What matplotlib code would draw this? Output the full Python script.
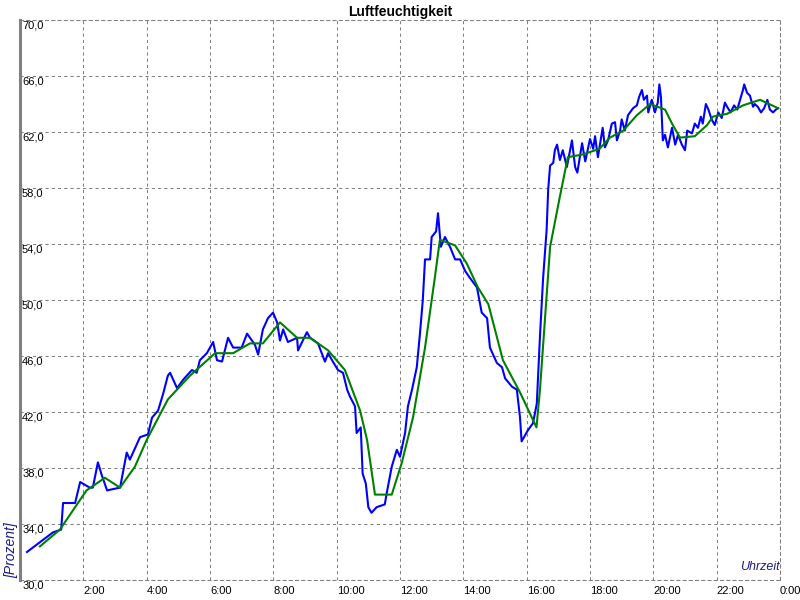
import matplotlib
matplotlib.use("Agg")
import matplotlib.pyplot as plt

# humidity readings (hours since midnight, percent)
raw_hours = [0.22, 0.63, 1.04, 1.30, 1.36, 1.74, 1.90, 2.20, 2.30, 2.46, 2.58, 2.75,
             3.16, 3.37, 3.47, 3.79, 4.04, 4.17, 4.36, 4.52, 4.67, 4.74, 4.96, 5.15,
             5.43, 5.58, 5.68, 5.90, 6.10, 6.22, 6.38, 6.57, 6.73, 7.00, 7.17, 7.42,
             7.52, 7.67, 7.83, 7.99, 8.12, 8.21, 8.31, 8.46, 8.75, 8.78, 9.06, 9.16,
             9.41, 9.63, 9.73, 9.88, 10.04, 10.20, 10.33, 10.42, 10.58, 10.63, 10.76,
             10.82, 10.92, 11.00, 11.10, 11.26, 11.52, 11.58, 11.74, 11.90, 12.00,
             12.16, 12.25, 12.38, 12.53, 12.63, 12.72, 12.79, 12.95, 13.00, 13.14,
             13.20, 13.29, 13.42, 13.58, 13.74, 13.90, 14.05, 14.20, 14.43, 14.58,
             14.75, 14.84, 15.06, 15.22, 15.32, 15.54, 15.69, 15.79, 15.84, 16.04,
             16.20, 16.32, 16.42, 16.52, 16.63, 16.68, 16.74, 16.84, 16.89, 16.96,
             17.05, 17.14, 17.27, 17.43, 17.53, 17.60, 17.75, 17.85, 18.00, 18.10,
             18.16, 18.25, 18.40, 18.47, 18.57, 18.69, 18.79, 18.85, 18.95, 19.00,
             19.10, 19.20, 19.36, 19.48, 19.55, 19.64, 19.70, 19.80, 19.84, 19.95,
             20.05, 20.14, 20.19, 20.24, 20.30, 20.37, 20.46, 20.59, 20.69, 20.78,
             20.90, 21.00, 21.07, 21.22, 21.31, 21.41, 21.50, 21.56, 21.66, 21.74,
             21.84, 21.94, 22.05, 22.16, 22.26, 22.33, 22.44, 22.55, 22.65, 22.74,
             22.83, 22.87, 22.96, 23.05, 23.15, 23.20, 23.30, 23.40, 23.50, 23.60,
             23.68, 23.78, 23.87, 23.94]
raw_values = [32.0, 32.7, 33.4, 33.6, 35.5, 35.5, 37.0, 36.6, 36.6, 38.4, 37.5, 36.4,
              36.6, 39.1, 38.6, 40.2, 40.4, 41.6, 42.1, 43.3, 44.6, 44.8, 43.7, 44.3,
              45.0, 44.8, 45.7, 46.2, 47.0, 45.7, 45.6, 47.3, 46.6, 46.6, 47.6, 46.8,
              46.1, 47.9, 48.7, 49.1, 48.4, 47.1, 47.9, 47.0, 47.3, 46.4, 47.7, 47.3,
              46.9, 45.6, 46.2, 45.6, 45.0, 44.8, 43.6, 43.1, 42.4, 40.5, 40.9,
              37.6, 36.9, 35.2, 34.8, 35.2, 35.4, 36.2, 38.1, 39.3, 38.8,
              40.5, 42.4, 43.6, 45.2, 47.6, 50.0, 52.9, 52.9, 54.5, 54.9,
              56.2, 53.8, 54.5, 53.8, 52.9, 52.9, 52.1, 51.6, 50.9, 49.1,
              48.7, 46.6, 45.5, 45.2, 44.4, 43.8, 43.6, 41.6, 39.9, 40.7,
              41.2, 42.6, 47.4, 51.6, 55.0, 57.9, 59.6, 59.8, 60.7, 61.1,
              60.0, 60.7, 59.5, 61.4, 59.5, 59.1, 61.2, 59.9, 61.5, 60.8,
              61.7, 60.2, 62.3, 60.9, 61.4, 62.6, 62.7, 61.4, 62.1, 62.9,
              62.1, 63.2, 63.7, 63.9, 64.5, 65.0, 64.3, 64.6, 63.4, 64.3,
              63.4, 64.1, 65.4, 64.5, 61.4, 61.8, 60.9, 62.3, 61.1, 61.8,
              61.1, 60.7, 62.1, 61.9, 62.6, 62.3, 63.1, 62.6, 64.0, 63.6,
              62.9, 62.5, 63.4, 63.0, 64.1, 63.8, 63.4, 63.9, 63.6, 64.3,
              65.0, 65.4, 64.8, 64.6, 63.8, 64.0, 63.8, 63.4, 63.7, 64.3,
              63.6, 63.4, 63.6, 63.7]

# smoothed curve
avg_hours = [0.63, 1.26, 2.10, 2.68, 3.16, 3.63, 4.00, 4.67, 5.37, 6.16, 6.73, 7.26,
             7.67, 8.21, 8.75, 9.16, 9.73, 10.26, 10.74, 10.96, 11.21, 11.74, 12.06,
             12.41, 12.79, 13.10, 13.26, 13.74, 14.11, 14.46, 14.79, 15.25, 15.79,
             16.31, 16.42, 16.74, 17.05, 17.30, 17.78, 18.30, 18.63, 19.05, 19.48,
             19.90, 20.37, 20.59, 20.84, 21.31, 21.70, 21.88, 22.33, 22.83, 23.37,
             23.75, 23.94]
avg_values = [32.4, 33.6, 36.4, 37.3, 36.6, 38.1, 40.0, 42.9, 44.6, 46.2, 46.2, 46.9,
              46.9, 48.4, 47.3, 47.3, 46.4, 45.0, 42.1, 40.0, 36.1, 36.1, 38.4,
              41.6, 46.6, 51.6, 54.3, 53.9, 52.6, 50.9, 49.7, 45.7, 43.4,
              40.9, 43.6, 53.8, 57.4, 60.2, 60.4, 60.8, 61.6, 62.1, 63.2,
              64.0, 63.6, 62.6, 61.6, 61.7, 62.5, 63.1, 63.3, 63.9, 64.3,
              63.9, 63.7]

y_ticks = list(range(30, 71, 4))
y_labels = ["%d,0" % v for v in y_ticks]
x_ticks = list(range(2, 25, 2))
x_labels = ["%d:00" % (h % 24) for h in x_ticks]

plt.rcParams['font.family'] = ['Liberation Sans', 'DejaVu Sans']

fig = plt.figure(figsize=(8, 6), dpi=100)
ax = fig.add_axes([20 / 800, 20 / 600, 760 / 800, 560 / 600])

grid_color = '#808080'
dash = (0, (3, 3))

ax.plot(raw_hours, raw_values, color='#0000ff', linewidth=1.5, zorder=3)
ax.plot(avg_hours, avg_values, color='#008000', linewidth=1.5, zorder=4)

ax.set_xlim(0, 24)
ax.set_ylim(30, 70)

ax.set_yticks(y_ticks)
ax.set_yticklabels(y_labels)
ax.set_xticks(x_ticks)
ax.set_xticklabels(x_labels)
ax.tick_params(axis='both', length=0, labelsize=8, labelcolor='black')
ax.tick_params(axis='y', pad=-1.5)
ax.tick_params(axis='x', pad=4)
for lab in ax.get_yticklabels():
    lab.set_horizontalalignment('left')
    lab.set_verticalalignment('top')
for lab in ax.get_xticklabels():
    lab.set_horizontalalignment('left')

ax.grid(True, color=grid_color, linestyle=dash, linewidth=0.75)

ax.spines['left'].set_color(grid_color)
ax.spines['left'].set_linewidth(2.2)
for side in ['top', 'bottom', 'right']:
    ax.spines[side].set_color(grid_color)
    ax.spines[side].set_linestyle(dash)
    ax.spines[side].set_linewidth(0.75)

ax.set_title('Luftfeuchtigkeit', fontsize=10, fontweight='bold', pad=3)

ax.text(-0.011, 0.003, '[Prozent]', transform=ax.transAxes, rotation=90,
        ha='center', va='bottom', fontsize=10, style='italic', color='#1a1a8c')
ax.text(1.0, 0.012, 'Uhrzeit', transform=ax.transAxes, ha='right', va='bottom',
        fontsize=9, style='italic', color='#1a1a8c')

fig.savefig('out.png', dpi=100)
